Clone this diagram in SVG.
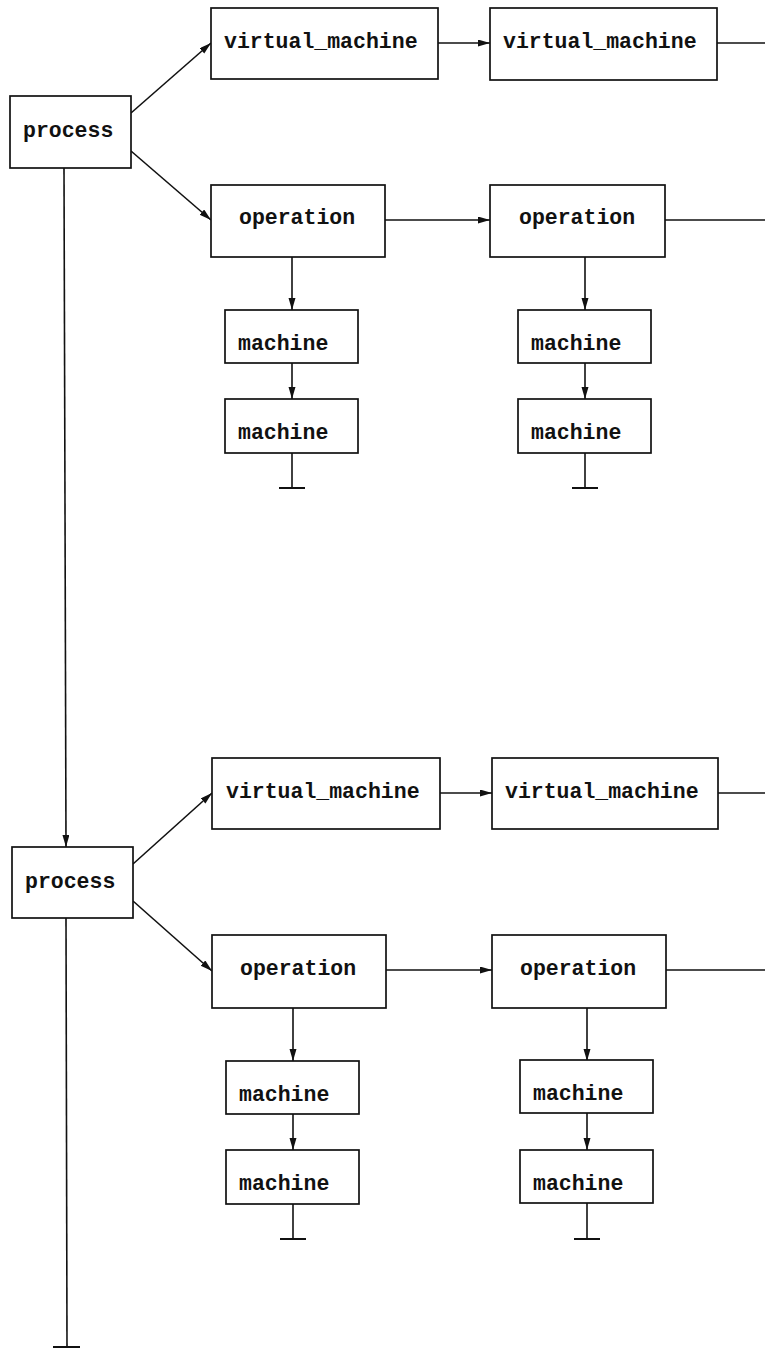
<svg xmlns="http://www.w3.org/2000/svg" width="765" height="1349" viewBox="0 0 765 1349">
  <style>
    .box { fill: #fff; stroke: #111; stroke-width: 1.7; }
    .lbl { font-family: "Liberation Mono", "DejaVu Sans Mono", monospace; font-weight: bold; font-size: 21.5px; fill: #111; }
    .edge { fill: none; stroke: #111; stroke-width: 1.6; }
    .arr { marker-end: url(#head); }
    .stop { fill: none; stroke: #111; stroke-width: 2; }
  </style>
  <defs>
    <marker id="head" markerUnits="userSpaceOnUse" markerWidth="13" markerHeight="8" refX="12" refY="3.5" orient="auto">
      <path d="M0,0 L12,3.5 L0,7 z" fill="#111"/>
    </marker>
  </defs>
  <rect width="765" height="1349" fill="#fff"/>

  <!-- connectors -->
  <g id="connectors">
    <!-- upper process -->
    <line class="edge arr" x1="131" y1="113" x2="211" y2="43"/>
    <line class="edge arr" x1="131" y1="151" x2="211" y2="220"/>
    <line class="edge arr" x1="438" y1="43" x2="490" y2="43"/>
    <line class="edge" x1="717" y1="43" x2="765" y2="43"/>
    <line class="edge arr" x1="385" y1="220" x2="490" y2="220"/>
    <line class="edge" x1="665" y1="220" x2="765" y2="220"/>
    <line class="edge arr" x1="292" y1="257" x2="292" y2="310"/>
    <line class="edge arr" x1="292" y1="363" x2="292" y2="399"/>
    <line class="edge" x1="292" y1="453" x2="292" y2="488"/>
    <line class="stop" x1="279" y1="488" x2="305" y2="488"/>
    <line class="edge arr" x1="585" y1="257" x2="585" y2="310"/>
    <line class="edge arr" x1="585" y1="363" x2="585" y2="399"/>
    <line class="edge" x1="585" y1="453" x2="585" y2="488"/>
    <line class="stop" x1="572" y1="488" x2="598" y2="488"/>
    <!-- trunk between processes -->
    <line class="edge arr" x1="64" y1="168" x2="66" y2="847"/>
    <!-- lower process -->
    <line class="edge arr" x1="133" y1="864" x2="212" y2="793"/>
    <line class="edge arr" x1="133" y1="901" x2="212" y2="971"/>
    <line class="edge arr" x1="440" y1="793" x2="492" y2="793"/>
    <line class="edge" x1="718" y1="793" x2="765" y2="793"/>
    <line class="edge arr" x1="386" y1="970" x2="492" y2="970"/>
    <line class="edge" x1="666" y1="970" x2="765" y2="970"/>
    <line class="edge arr" x1="293" y1="1008" x2="293" y2="1061"/>
    <line class="edge arr" x1="293" y1="1114" x2="293" y2="1150"/>
    <line class="edge" x1="293" y1="1204" x2="293" y2="1239"/>
    <line class="stop" x1="280" y1="1239" x2="306" y2="1239"/>
    <line class="edge arr" x1="587" y1="1008" x2="587" y2="1061"/>
    <line class="edge arr" x1="587" y1="1113" x2="587" y2="1150"/>
    <line class="edge" x1="587" y1="1203" x2="587" y2="1239"/>
    <line class="stop" x1="574" y1="1239" x2="600" y2="1239"/>
    <line class="edge" x1="66" y1="918" x2="67" y2="1347"/>
    <line class="stop" x1="53" y1="1347" x2="80" y2="1347"/>
  </g>

  <!-- upper nodes -->
  <g id="process1"><rect class="box" x="10" y="96" width="121" height="72"/><text class="lbl" x="23" y="137">process</text></g>
  <g id="vm1"><rect class="box" x="211" y="8" width="227" height="71"/><text class="lbl" x="224" y="48">virtual_machine</text></g>
  <g id="vm2"><rect class="box" x="490" y="8" width="227" height="72"/><text class="lbl" x="503" y="48">virtual_machine</text></g>
  <g id="op1"><rect class="box" x="211" y="185" width="174" height="72"/><text class="lbl" x="239" y="224">operation</text></g>
  <g id="op2"><rect class="box" x="490" y="185" width="175" height="72"/><text class="lbl" x="519" y="224">operation</text></g>
  <g id="m1a"><rect class="box" x="225" y="310" width="133" height="53"/><text class="lbl" x="238" y="350">machine</text></g>
  <g id="m1b"><rect class="box" x="225" y="399" width="133" height="54"/><text class="lbl" x="238" y="439">machine</text></g>
  <g id="m2a"><rect class="box" x="518" y="310" width="133" height="53"/><text class="lbl" x="531" y="350">machine</text></g>
  <g id="m2b"><rect class="box" x="518" y="399" width="133" height="54"/><text class="lbl" x="531" y="439">machine</text></g>

  <!-- lower nodes -->
  <g id="process2"><rect class="box" x="12" y="847" width="121" height="71"/><text class="lbl" x="25" y="888">process</text></g>
  <g id="vm3"><rect class="box" x="212" y="758" width="228" height="71"/><text class="lbl" x="226" y="798">virtual_machine</text></g>
  <g id="vm4"><rect class="box" x="492" y="758" width="226" height="71"/><text class="lbl" x="505" y="798">virtual_machine</text></g>
  <g id="op3"><rect class="box" x="212" y="935" width="174" height="73"/><text class="lbl" x="240" y="975">operation</text></g>
  <g id="op4"><rect class="box" x="492" y="935" width="174" height="73"/><text class="lbl" x="520" y="975">operation</text></g>
  <g id="m3a"><rect class="box" x="226" y="1061" width="133" height="53"/><text class="lbl" x="239" y="1101">machine</text></g>
  <g id="m3b"><rect class="box" x="226" y="1150" width="133" height="54"/><text class="lbl" x="239" y="1190">machine</text></g>
  <g id="m4a"><rect class="box" x="520" y="1060" width="133" height="53"/><text class="lbl" x="533" y="1100">machine</text></g>
  <g id="m4b"><rect class="box" x="520" y="1150" width="133" height="53"/><text class="lbl" x="533" y="1190">machine</text></g>
</svg>
